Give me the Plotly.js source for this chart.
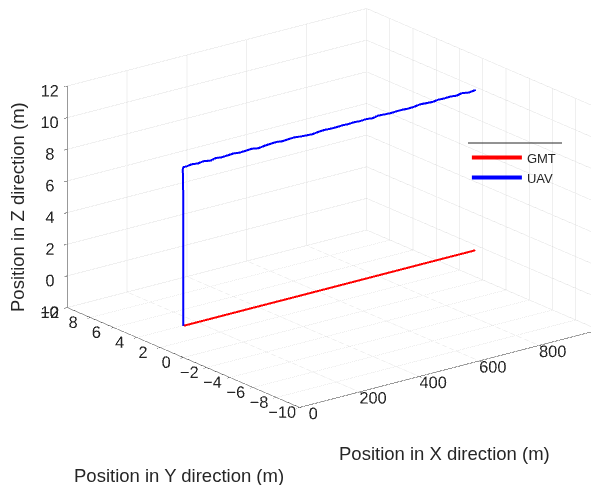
<!DOCTYPE html>
<html>
<head>
<meta charset="utf-8">
<script src="https://cdn.plot.ly/plotly-3.0.1.min.js"></script>
<style>html,body{margin:0;padding:0;background:#fff;}#chart{width:591px;height:485px;}</style>
</head>
<body>
<div id="chart"></div>
<script>
// GMT (ground moving target) path
const gmtX = [0, 120, 240, 360, 480, 600, 720, 840, 975];
const gmtY = [0, 0, 0, 0, 0, 0, 0, 0, 0];
const gmtZ = [0, 0, 0, 0, 0, 0, 0, 0, 0];

// UAV path: climb at x = 0, then cruise along x
const uavX = [0, 0, 0, 0, 0, 2, 10, 30, 50, 70, 90, 110, 130, 150, 170, 190, 210, 230, 250, 270, 290, 310, 330, 350, 370, 390, 410, 430, 450, 470, 490, 510, 530, 550, 570, 590, 610, 630, 650, 670, 690, 710, 730, 750, 770, 790, 810, 830, 850, 870, 890, 910, 930, 950, 975];
const uavY = [0, 0, 0, 0, 0.05, 0.05, 0.05, 0.05, 0.05, 0.05, 0, 0.05, 0.05, 0, 0.05, 0.05, 0, 0.05, 0, 0, 0.05, 0, 0, 0.05, 0, 0, -0.05, 0, 0, -0.05, 0, 0, -0.05, 0, -0.05, 0, -0.05, -0.05, 0, -0.05, 0, -0.05, -0.05, 0, -0.05, -0.05, 0, -0.05, -0.05, 0, -0.05, -0.05, 0, -0.05, -0.05];
const uavZ = [0, 2.5, 5, 7.5, 9.9, 10.0, 10.0, 10.05, 10.0, 10.05, 10.0, 10.05, 10.0, 10.05, 10.05, 10.0, 10.05, 10.05, 10.0, 10.05, 10.05, 10.1, 10.05, 10.05, 10.1, 10.05, 10.05, 10.0, 10.05, 10.1, 10.05, 10.05, 10.1, 10.05, 10.1, 10.05, 10.1, 10.05, 10.1, 10.1, 10.05, 10.1, 10.1, 10.05, 10.1, 10.15, 10.1, 10.1, 10.15, 10.1, 10.15, 10.1, 10.15, 10.1, 10.15];

const seriesNames = ['GMT', 'UAV'];
const xTicks = [0, 200, 400, 600, 800];
const yTicks = [-10, -8, -6, -4, -2, 0, 2, 4, 6, 8, 10];
const zTicks = [-2, 0, 2, 4, 6, 8, 10, 12];

const traces = [
  {type: 'scatter3d', mode: 'lines', name: seriesNames[0], x: gmtX, y: gmtY, z: gmtZ,
   line: {color: '#ff0000', width: 4}},
  {type: 'scatter3d', mode: 'lines', name: seriesNames[1], x: uavX, y: uavY, z: uavZ,
   line: {color: '#0000ff', width: 4}}
];

const axCommon = {
  showbackground: false,
  gridcolor: '#e0e0e0',
  gridwidth: 1,
  showline: true,
  linecolor: '#333333',
  linewidth: 1,
  ticks: 'outside',
  ticklen: 4,
  tickcolor: '#333333',
  tickangle: 0,
  zeroline: false,
  showspikes: false,
  tickfont: {family: 'Liberation Sans, Arial, sans-serif', size: 14, color: '#262626'},
  title: {text: ''}
};

const layout = {
  width: 591, height: 485,
  margin: {l: 0, r: 0, t: 0, b: 0},
  paper_bgcolor: '#ffffff',
  font: {family: 'Liberation Sans, Arial, sans-serif', color: '#262626'},
  showlegend: true,
  legend: {x: 0.79, y: 0.706, xanchor: 'left', yanchor: 'top', bgcolor: 'rgba(255,255,255,0)',
           font: {size: 13, color: '#262626'}, itemwidth: 50, tracegroupgap: 0},
  scene: {
    domain: {x: [0, 1], y: [0, 1]},
    aspectmode: 'manual',
    aspectratio: {x: 1.563, y: 1.563, z: 0.969},
    camera: {
      eye: {x: -0.8015, y: -0.780, z: 0.241},
      up: {x: 0, y: 0, z: 1},
      center: {x: -0.1225, y: 0.095, z: -0.151},
      projection: {type: 'orthographic'}
    },
    xaxis: Object.assign({}, axCommon, {range: [0, 1000], tickvals: xTicks}),
    yaxis: Object.assign({}, axCommon, {range: [-10, 10], tickvals: yTicks}),
    zaxis: Object.assign({}, axCommon, {range: [-2, 12], tickvals: zTicks})
  },
  annotations: [
    {xref: 'paper', yref: 'paper', x: 444/591, y: 1 - 453/485, xanchor: 'center', yanchor: 'middle',
     text: 'Position in X direction (m)', showarrow: false, font: {size: 18.5, color: '#262626'}},
    {xref: 'paper', yref: 'paper', x: 179/591, y: 1 - 475/485, xanchor: 'center', yanchor: 'middle',
     text: 'Position in Y direction (m)', showarrow: false, font: {size: 18.5, color: '#262626'}},
    {xref: 'paper', yref: 'paper', x: 17/591, y: 1 - 207/485, xanchor: 'center', yanchor: 'middle',
     text: 'Position in Z direction (m)', showarrow: false, textangle: -90, font: {size: 18.5, color: '#262626'}}
  ],
  shapes: [
    {type: 'line', xref: 'paper', yref: 'paper', x0: 468/591, x1: 562/591, y0: 1 - 143/485, y1: 1 - 143/485,
     line: {color: '#262626', width: 1}}
  ]
};

Plotly.newPlot('chart', traces, layout, {displayModeBar: false, plotGlPixelRatio: 1});
</script>
</body>
</html>
